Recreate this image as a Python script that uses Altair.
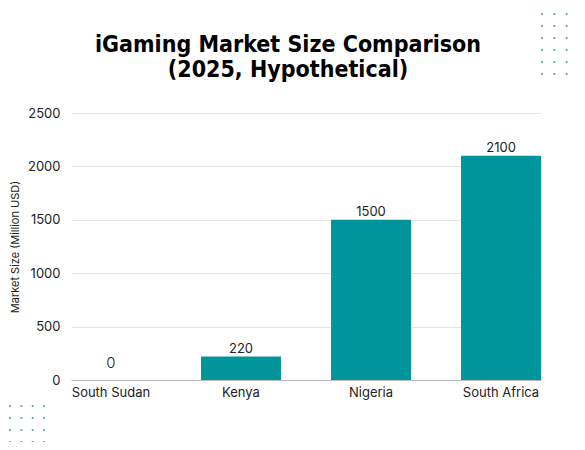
import altair as alt
import pandas as pd

countries = ["South Sudan", "Kenya", "Nigeria", "South Africa"]
values = [0, 220, 1500, 2100]
y_ticks = [0, 500, 1000, 1500, 2000, 2500]
title_lines = ["iGaming Market Size Comparison", "(2025, Hypothetical)"]

# decorative dot grids (column/row indices)
tr_cols = [0, 1, 2, 3]
tr_rows = [0, 1, 2, 3, 4, 5]
bl_cols = [0, 1, 2, 3]
bl_rows = [0, 1, 2, 3]

df = pd.DataFrame({"country": countries, "value": values})
tr = pd.DataFrame([{"c": c, "r": r} for c in tr_cols for r in tr_rows])
bl = pd.DataFrame([{"c": c, "r": r} for c in bl_cols for r in bl_rows])
tdf = pd.DataFrame({"line": title_lines, "i": [0, 1]})

FONT = "Inter"
TEAL = "#00959A"
TFONT = "DejaVu Sans Condensed"

x_enc = alt.X("country:N", sort=countries,
              scale=alt.Scale(paddingInner=0.385, paddingOuter=0),
              axis=alt.Axis(title=None, labelAngle=0, labelFontSize=13, labelColor="#222",
                            labelFont=FONT, domain=True, domainColor="#bdbdbd", ticks=False,
                            labelPadding=6, grid=False))
y_enc = alt.Y("value:Q", scale=alt.Scale(domain=[0, 2500]),
              axis=alt.Axis(values=y_ticks, format="d", title="Market Size (Million USD)",
                            titleFont=FONT, titleFontSize=11, titleFontWeight="normal",
                            titleColor="#222", titlePadding=7,
                            labelFont=FONT, labelFontSize=13, labelColor="#222",
                            labelPadding=11, domain=False, ticks=False,
                            grid=True, gridColor="#e4e4e4"))

base = alt.Chart(df)
bars = base.mark_bar(color=TEAL).encode(x=x_enc, y=y_enc)
labels = base.transform_filter("datum.value > 0").mark_text(
    dy=-8, fontSize=13, font=FONT, color="#222").encode(x=x_enc, y=y_enc, text="value:Q")
zero = base.transform_filter("datum.value == 0").mark_text(
    dy=-17, fontSize=15, font=FONT, fontWeight=300, color="#222").encode(x=x_enc, y=y_enc, text="value:Q")

main = alt.layer(bars, labels, zero)

dots_tr = alt.Chart(tr).mark_circle(size=5, color="#3f9a9a", opacity=0.9).encode(
    x=alt.X("c:Q", scale=alt.Scale(domain=[0, 3], range=[471, 508]), axis=None),
    y=alt.Y("r:Q", scale=alt.Scale(domain=[0, 5], range=[-99, -39]), axis=None))
dots_bl = alt.Chart(bl).mark_circle(size=5, color="#3f9a9a", opacity=0.9).encode(
    x=alt.X("c:Q", scale=alt.Scale(domain=[0, 3], range=[-61, -27]), axis=None),
    y=alt.Y("r:Q", scale=alt.Scale(domain=[0, 3], range=[293, 329]), axis=None))

title = alt.Chart(tdf).mark_text(
    font=TFONT, fontSize=23, fontWeight="bold", color="#000", align="center",
    baseline="alphabetic").encode(
    x=alt.value(217),
    y=alt.Y("i:Q", scale=alt.Scale(domain=[0, 1], range=[-61, -36]), axis=None),
    text="line:N")

chart = alt.layer(main, dots_tr, dots_bl, title).resolve_scale(
    x="independent", y="independent"
).properties(
    width=470, height=267,
    autosize=alt.AutoSizeParams(type="none"),
    padding={"left": 63, "top": 105, "right": 36, "bottom": 62},
    background="white",
).configure_view(stroke=None)

chart.save("out.html", embed_options={"renderer": "svg", "actions": False})
